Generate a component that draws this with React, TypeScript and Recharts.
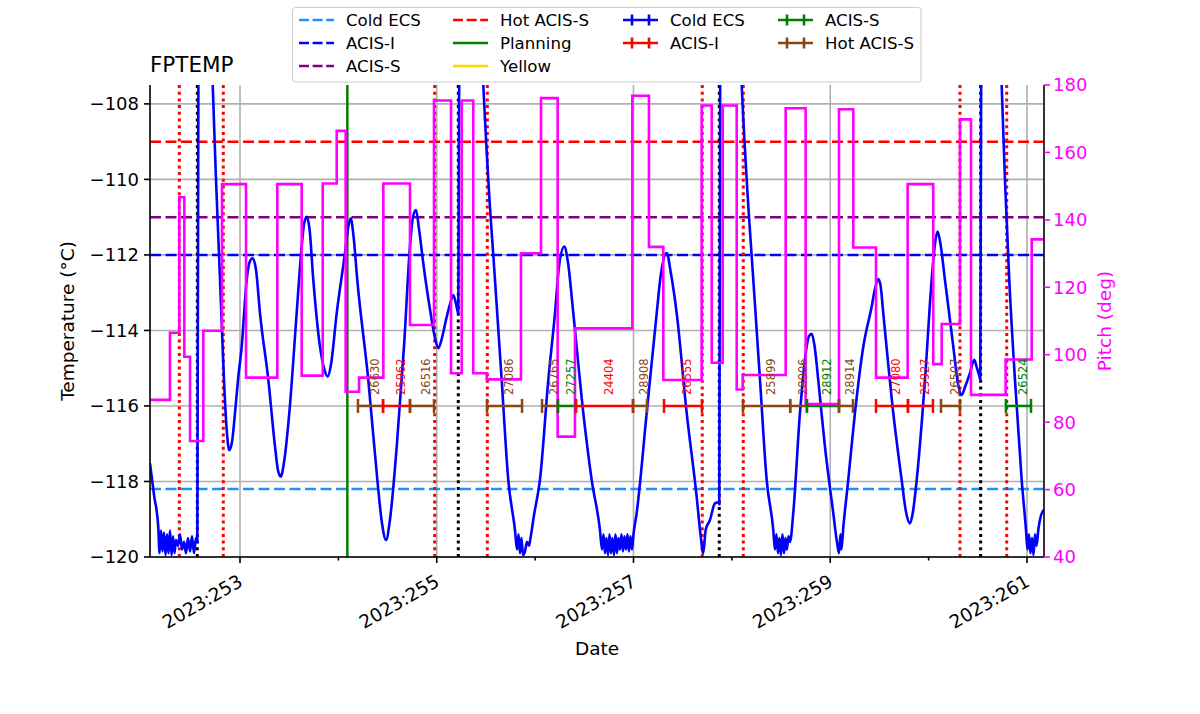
import React from 'react';
import { CartesianGrid, ComposedChart, Line, ReferenceLine, Scatter, XAxis, YAxis } from 'recharts';

const FONT = '"DejaVu Sans", Verdana, sans-serif';

// x is day of year 2023 (fractional)
const X_DOMAIN = [252.085, 261.173];
const X_TICKS = [253, 254, 255, 256, 257, 258, 259, 260, 261];
const X_MAJOR = [253, 255, 257, 259, 261];
const T_TICKS = [-120, -118, -116, -114, -112, -110, -108];
const P_TICKS = [40, 60, 80, 100, 120, 140, 160, 180];

// FPTEMP (deg C)
const fpDays = [
  252.085, 252.126, 252.169, 252.182, 252.197, 252.212, 252.227, 252.243, 252.258, 252.273,
  252.288, 252.304, 252.319, 252.334, 252.349, 252.37, 252.39, 252.41, 252.431, 252.451,
  252.471, 252.492, 252.512, 252.532, 252.553, 252.566, 252.577, 252.644, 252.72, 252.756,
  252.797, 252.837, 252.865, 252.891, 252.919, 252.949, 252.98, 253.017, 253.068, 253.096,
  253.129, 253.163, 253.203, 253.288, 253.356, 253.386, 253.414, 253.447, 253.501, 253.576,
  253.627, 253.65, 253.678, 253.706, 253.745, 253.813, 253.854, 253.891, 253.925, 253.983,
  254.067, 254.098, 254.125, 254.154, 254.192, 254.304, 254.396, 254.443, 254.484, 254.525,
  254.593, 254.667, 254.728, 254.758, 254.789, 254.819, 254.863, 254.938, 254.982, 255.016,
  255.053, 255.094, 255.135, 255.168, 255.196, 255.219, 255.228, 255.338, 255.47, 255.524,
  255.592, 255.66, 255.727, 255.795, 255.816, 255.831, 255.846, 255.861, 255.877, 255.897,
  255.917, 255.938, 255.953, 255.988, 256.049, 256.134, 256.202, 256.243, 256.296, 256.334,
  256.388, 256.49, 256.575, 256.659, 256.68, 256.695, 256.71, 256.725, 256.741, 256.756,
  256.771, 256.786, 256.802, 256.817, 256.832, 256.847, 256.863, 256.878, 256.893, 256.908,
  256.924, 256.939, 256.954, 256.969, 256.985, 257.0, 257.032, 257.134, 257.236, 257.279,
  257.337, 257.381, 257.439, 257.541, 257.642, 257.681, 257.709, 257.734, 257.777, 257.828,
  257.862, 257.872, 257.881, 257.981, 258.097, 258.151, 258.218, 258.286, 258.354, 258.421,
  258.438, 258.453, 258.469, 258.484, 258.499, 258.514, 258.53, 258.545, 258.56, 258.575,
  258.591, 258.624, 258.692, 258.76, 258.784, 258.811, 258.84, 258.878, 258.946, 259.031,
  259.068, 259.089, 259.104, 259.114, 259.132, 259.183, 259.251, 259.336, 259.421, 259.455,
  259.488, 259.511, 259.539, 259.641, 259.726, 259.77, 259.81, 259.841, 259.879, 259.963,
  260.031, 260.065, 260.092, 260.12, 260.166, 260.251, 260.298, 260.336, 260.37, 260.42,
  260.464, 260.492, 260.515, 260.525, 260.534, 260.634, 260.74, 260.776, 260.82, 260.878,
  260.946, 260.99, 261.005, 261.02, 261.035, 261.051, 261.066, 261.081, 261.098, 261.115,
  261.142, 261.173,
];
const fpTemps = [
  -117.52, -118.36, -119.2, -119.9, -119.3, -119.85, -119.35, -119.95, -119.4, -119.9,
  -119.3, -119.95, -119.45, -119.9, -119.55, -119.7, -119.4, -119.8, -119.6, -119.9,
  -119.5, -119.85, -119.45, -119.9, -119.5, -119.6, -107.3, -99.0, -107.3, -110.01,
  -112.66, -115.31, -116.64, -117.17, -116.95, -116.19, -115.3, -114.43, -112.66, -112.2,
  -112.09, -112.4, -113.54, -115.31, -117.08, -117.7, -117.87, -117.5, -116.19, -113.54,
  -111.77, -111.2, -110.99, -111.3, -112.66, -114.43, -115.0, -115.22, -114.9, -113.54,
  -111.95, -111.3, -111.03, -111.5, -112.66, -115.31, -117.96, -119.1, -119.55, -119.0,
  -117.08, -114.43, -111.77, -111.0, -110.81, -111.3, -112.22, -113.55, -114.2, -114.47,
  -114.2, -113.72, -113.3, -113.06, -113.3, -113.55, -107.3, -96.0, -107.3, -110.01,
  -112.66, -115.31, -117.96, -119.28, -119.8, -119.4, -119.9, -119.5, -119.95, -119.85,
  -119.6, -119.7, -119.5, -118.9, -117.96, -115.31, -113.54, -112.3, -111.78, -112.2,
  -113.54, -116.19, -117.96, -119.28, -119.8, -119.4, -119.9, -119.5, -119.95, -119.4,
  -119.9, -119.5, -119.95, -119.4, -119.9, -119.5, -119.8, -119.4, -119.85, -119.45,
  -119.8, -119.4, -119.85, -119.45, -119.8, -119.4, -118.84, -116.19, -113.54, -112.5,
  -111.95, -112.5, -113.54, -116.19, -118.4, -119.4, -119.9, -119.28, -119.02, -118.58,
  -118.55, -118.6, -107.3, -96.0, -107.3, -110.01, -112.66, -115.31, -117.96, -119.28,
  -119.8, -119.4, -119.9, -119.5, -119.95, -119.4, -119.9, -119.5, -119.8, -119.45,
  -119.6, -118.84, -116.19, -114.43, -114.15, -114.09, -114.4, -115.31, -117.08, -118.84,
  -119.6, -119.9, -119.4, -119.8, -119.24, -117.96, -116.19, -114.43, -113.37, -112.9,
  -112.64, -112.8, -113.54, -116.19, -117.96, -118.8, -119.11, -118.8, -117.96, -115.31,
  -112.66, -111.7, -111.38, -111.7, -112.66, -114.43, -115.4, -115.71, -115.5, -115.13,
  -114.78, -115.0, -115.2, -115.3, -107.3, -96.0, -107.3, -110.01, -112.66, -115.31,
  -117.96, -119.28, -119.8, -119.4, -119.9, -119.5, -119.95, -119.4, -119.7, -119.28,
  -118.9, -118.75,
];

// pitch (deg), step changes
const pitchDays = [
  252.085, 252.288, 252.383, 252.434, 252.492, 252.627, 252.817, 253.061, 253.379, 253.627,
  253.841, 253.983, 254.074, 254.21, 254.457, 254.728, 254.972, 255.145, 255.254, 255.371,
  255.508, 255.856, 256.06, 256.229, 256.405, 256.988, 257.157, 257.303, 257.693, 257.795,
  257.907, 258.049, 258.11, 258.547, 258.75, 259.089, 259.234, 259.465, 259.787, 260.047,
  260.133, 260.319, 260.431, 260.783, 261.048, 261.173,
];
const pitchVals = [
  86.6, 106.5, 146.7, 99.4, 74.4, 107.1, 150.6, 93.2, 150.6, 93.8,
  150.8, 166.4, 89.0, 93.2, 150.8, 108.8, 175.4, 94.5, 175.4, 94.5,
  92.7, 130.1, 176.1, 75.7, 107.8, 176.8, 132.0, 92.5, 173.9, 97.6,
  173.9, 89.7, 94.0, 173.1, 85.4, 172.8, 131.8, 93.2, 150.6, 97.2,
  109.1, 169.8, 88.1, 98.6, 134.2, 134.2,
];

// limit lines (deg C)
const limitNames = ['Cold ECS', 'ACIS-I', 'ACIS-S', 'Hot ACIS-S'];
const limitValues = [-118.2, -112.0, -111.0, -109.0];
const limitColors = ['#1e90ff', '#0000ff', '#800080', '#ff0000'];

const redDotDays = [252.383, 252.83, 254.979, 255.514, 257.699, 258.116, 260.319, 260.794];
const blackDotDays = [252.566, 255.219, 257.872, 260.529];
const planningDay = 254.091;

// observations
const obsIds = ['26630', '25962', '26516', '27086', '26765', '27257', '24404', '28908', '26555',
  '25899', '28906', '28912', '28914', '27080', '25927', '26507', '26524'];
const obsStart = [254.199, 254.454, 254.728, 255.511, 256.07, 256.232, 256.415, 256.995, 257.31,
  258.113, 258.593, 258.763, 259.089, 259.465, 259.79, 260.126, 260.786];
const obsStop = [254.454, 254.728, 254.972, 255.867, 256.232, 256.415, 256.995, 257.137, 257.696,
  258.593, 258.763, 259.089, 259.231, 259.79, 260.044, 260.319, 261.041];
const obsLimit = ['Hot ACIS-S', 'ACIS-I', 'Hot ACIS-S', 'Hot ACIS-S', 'Hot ACIS-S', 'ACIS-S', 'ACIS-I',
  'Hot ACIS-S', 'ACIS-I', 'Hot ACIS-S', 'Hot ACIS-S', 'ACIS-S', 'Hot ACIS-S', 'ACIS-I', 'ACIS-I',
  'Hot ACIS-S', 'ACIS-S'];
const OBS_LEVEL = -116;
const OBS_COLORS: Record<string, string> = {
  'Cold ECS': '#0000ff',
  'ACIS-I': '#ff0000',
  'ACIS-S': '#008000',
  'Hot ACIS-S': '#8b4513',
};

const fpData = fpDays.map((day, i) => ({ day, t: fpTemps[i] }));
const pitchData = pitchDays.map((day, i) => ({ day, p: pitchVals[i] }));
const obsLines = obsIds.map((id, i) => ({
  id,
  color: OBS_COLORS[obsLimit[i]],
  data: [
    { day: obsStart[i], t: OBS_LEVEL },
    { day: obsStop[i], t: OBS_LEVEL },
  ],
}));
const obsLabels = obsIds.map((id, i) => ({
  id,
  color: OBS_COLORS[obsLimit[i]],
  day: (obsStart[i] + obsStop[i]) / 2,
  t: OBS_LEVEL,
}));

const LEGEND_COLS = [
  [
    { label: 'Cold ECS', color: '#1e90ff', kind: 'dash' },
    { label: 'ACIS-I', color: '#0000ff', kind: 'dash' },
    { label: 'ACIS-S', color: '#800080', kind: 'dash' },
  ],
  [
    { label: 'Hot ACIS-S', color: '#ff0000', kind: 'dash' },
    { label: 'Planning', color: '#008000', kind: 'solid' },
    { label: 'Yellow', color: '#ffd700', kind: 'solid' },
  ],
  [
    { label: 'Cold ECS', color: '#0000ff', kind: 'bar' },
    { label: 'ACIS-I', color: '#ff0000', kind: 'bar' },
  ],
  [
    { label: 'ACIS-S', color: '#008000', kind: 'bar' },
    { label: 'Hot ACIS-S', color: '#8b4513', kind: 'bar' },
  ],
];
const LEGEND_X = [299, 453, 623, 778];

const fmtTemp = (v: number) => (v < 0 ? `\u2212${Math.abs(v)}` : String(v));

function XTick(props: any) {
  const { x, y, payload } = props;
  const major = X_MAJOR.includes(payload.value);
  const tx = x + 4;
  const ty = y + 28;
  return (
    <g>
      <line x1={x} x2={x} y1={y} y2={y + (major ? 6 : 3.5)} stroke="#000" strokeWidth={1.6} />
      {major && (
        <text x={tx} y={ty} textAnchor="end" transform={`rotate(-30 ${tx} ${ty})`}
          fontSize={18.5} fontFamily={FONT} fill="#000">
          {`2023:${payload.value}`}
        </text>
      )}
    </g>
  );
}

const capDot = (color: string) => (props: any) => {
  const { cx, cy, index } = props;
  if (cx == null || cy == null) return <g key={`c${index}`} />;
  return <line key={`c${index}`} x1={cx} x2={cx} y1={cy - 7} y2={cy + 7} stroke={color} strokeWidth={2.5} />;
};

function ObsLabel(props: any) {
  const { cx, cy, payload } = props;
  if (cx == null || cy == null) return <g />;
  const tx = cx + 8.5;
  const ty = cy - 11;
  return (
    <text x={tx} y={ty} transform={`rotate(-90 ${tx} ${ty})`} fontSize={11.5}
      fontFamily={FONT} fill={payload.color}>
      {payload.id}
    </text>
  );
}

function Overlay() {
  return (
    <svg width={1200} height={714} style={{ position: 'absolute', left: 0, top: 0, pointerEvents: 'none' }}>
      <text x={150} y={72} fontSize={21.5} fontFamily={FONT} fill="#000">FPTEMP</text>
      <text x={74} y={321} transform="rotate(-90 74 321)" textAnchor="middle" fontSize={18.5} fontFamily={FONT} fill="#000">
        Temperature (°C)
      </text>
      <text x={1111} y={321} transform="rotate(-90 1111 321)" textAnchor="middle" fontSize={18.5} fontFamily={FONT} fill="#ff00ff">
        Pitch (deg)
      </text>
      <text x={597} y={655} textAnchor="middle" fontSize={18.5} fontFamily={FONT} fill="#000">Date</text>

      <rect x={292.5} y={7.5} width={628.5} height={74.5} rx={3} fill="#fff" fillOpacity={0.8} stroke="#cccccc" strokeWidth={1} />
      {LEGEND_COLS.map((col, ci) =>
        col.map((item, ri) => {
          const x0 = LEGEND_X[ci];
          const y0 = 20 + ri * 23;
          return (
            <g key={`${ci}-${ri}`}>
              <line x1={x0} x2={x0 + 35} y1={y0} y2={y0} stroke={item.color} strokeWidth={2.6}
                strokeDasharray={item.kind === 'dash' ? '10 3.6' : undefined} />
              {item.kind === 'bar' && (
                <>
                  <line x1={x0 + 9} x2={x0 + 9} y1={y0 - 5.5} y2={y0 + 5.5} stroke={item.color} strokeWidth={2.6} />
                  <line x1={x0 + 26} x2={x0 + 26} y1={y0 - 5.5} y2={y0 + 5.5} stroke={item.color} strokeWidth={2.6} />
                </>
              )}
              <text x={x0 + 47} y={y0 + 6} fontSize={16.6} fontFamily={FONT} fill="#000">{item.label}</text>
            </g>
          );
        }),
      )}
    </svg>
  );
}

export default function App() {
  return (
    <div style={{ position: 'absolute', left: 0, top: 0, width: 1200, height: 714, background: '#fff' }}>
      <ComposedChart width={1200} height={714} margin={{ top: 85, right: 96, bottom: 97, left: 90 }}>
        <CartesianGrid yAxisId="t" verticalValues={X_MAJOR} horizontalValues={T_TICKS} stroke="#b0b0b0" strokeWidth={1.6} />
        <XAxis dataKey="day" type="number" domain={X_DOMAIN} allowDataOverflow ticks={X_TICKS} interval={0}
          height={60} tickSize={0} tickMargin={0} tickLine={false} tick={<XTick />}
          axisLine={{ stroke: '#000', strokeWidth: 1.6 }} />
        <XAxis xAxisId="top" orientation="top" type="number" domain={X_DOMAIN} allowDataOverflow height={0}
          tick={false} tickLine={false} axisLine={{ stroke: '#000', strokeWidth: 1.6 }} />
        <YAxis yAxisId="t" orientation="left" type="number" domain={[-120, -107.5]} allowDataOverflow ticks={T_TICKS}
          interval={0} width={60} tickSize={6} tickMargin={5} tickFormatter={fmtTemp}
          tick={{ fontSize: 18, fill: '#000', fontFamily: FONT }}
          axisLine={{ stroke: '#000', strokeWidth: 1.6 }} tickLine={{ stroke: '#000', strokeWidth: 1.6 }} />
        <YAxis yAxisId="p" orientation="right" type="number" domain={[40, 180]} allowDataOverflow ticks={P_TICKS}
          interval={0} width={60} tickSize={6} tickMargin={3}
          tick={{ fontSize: 18, fill: '#ff00ff', fontFamily: FONT }}
          axisLine={{ stroke: '#000', strokeWidth: 1.6 }} tickLine={{ stroke: '#ff00ff', strokeWidth: 1.6 }} />

        {limitValues.map((v, i) => (
          <ReferenceLine key={limitNames[i]} yAxisId="t" y={v} stroke={limitColors[i]} strokeWidth={2.5} strokeDasharray="11 4.5" />
        ))}
        {redDotDays.map((d) => (
          <ReferenceLine key={`r${d}`} yAxisId="t" x={d} stroke="#ff0000" strokeWidth={3} strokeDasharray="3 3.7" />
        ))}
        {blackDotDays.map((d) => (
          <ReferenceLine key={`k${d}`} yAxisId="t" x={d} stroke="#000" strokeWidth={3} strokeDasharray="3 3.7" />
        ))}
        <ReferenceLine yAxisId="t" x={planningDay} stroke="#008000" strokeWidth={2.5} />

        <Line data={fpData} dataKey="t" yAxisId="t" type="monotone" stroke="#0000ff" strokeWidth={2.6}
          dot={false} activeDot={false} isAnimationActive={false} />

        {obsLines.map((o) => (
          <Line key={o.id} data={o.data} dataKey="t" yAxisId="t" type="linear" stroke={o.color} strokeWidth={2.5}
            dot={capDot(o.color)} activeDot={false} isAnimationActive={false} />
        ))}
        <Scatter data={obsLabels} dataKey="t" yAxisId="t" shape={<ObsLabel />} isAnimationActive={false} />

        <Line data={pitchData} dataKey="p" yAxisId="p" type="stepAfter" stroke="#ff00ff" strokeWidth={2.6}
          dot={false} activeDot={false} isAnimationActive={false} />
      </ComposedChart>
      <Overlay />
    </div>
  );
}
